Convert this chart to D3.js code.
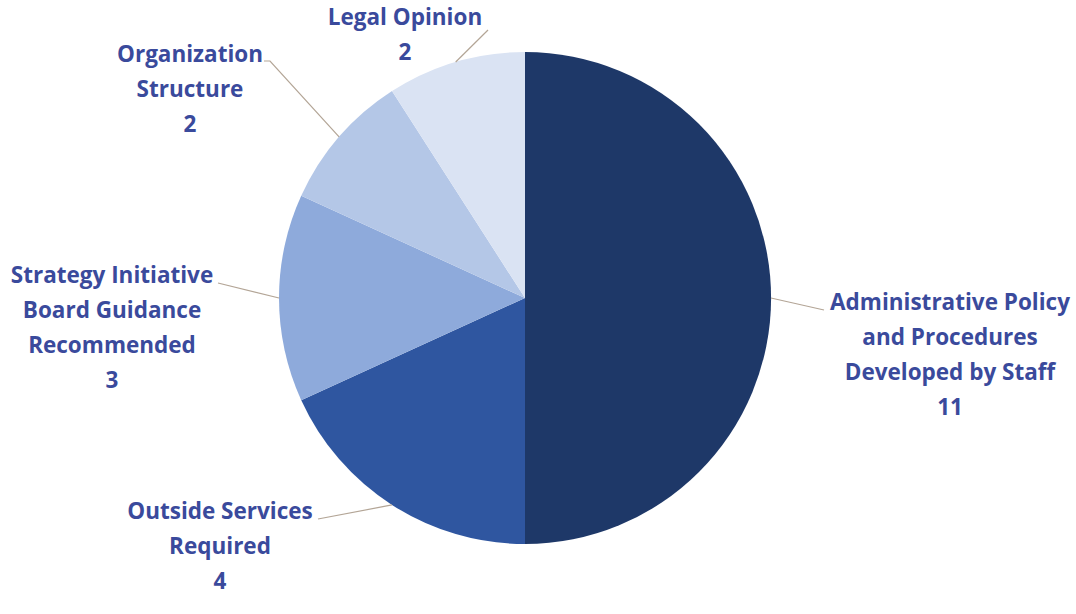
<!DOCTYPE html>
<html><head><meta charset="utf-8">
<script src="https://cdn.jsdelivr.net/npm/d3@7/dist/d3.min.js"></script>
<style>body{margin:0;background:#fff}svg{display:block}</style>
</head><body>
<svg id="c" width="1076" height="614"></svg>
<script>
const categories = ["Administrative Policy and Procedures Developed by Staff","Outside Services Required","Strategy Initiative Board Guidance Recommended","Organization Structure","Legal Opinion"];
const labelLines = [["Administrative Policy","and Procedures","Developed by Staff"],["Outside Services","Required"],["Strategy Initiative","Board Guidance","Recommended"],["Organization","Structure"],["Legal Opinion"]];
const values = [11,4,3,2,2];
const colors = ["#1e3868","#2f56a0","#8eaadb","#b4c7e7","#dae3f3"];

// layout (positions of label blocks: center x, first baseline y, leader elbow)
const layout = [
  {x:950, y:310, lx:824, ly:310},
  {x:220, y:519, lx:318, ly:519},
  {x:112, y:283, lx:218, ly:283},
  {x:190, y:62,  lx:264, ly:61, ex:270},
  {x:405, y:25,  lx:488, ly:30}
];
const lineH = 35;

const svg = d3.select("#c");
const cx = 525, cy = 298, R = 246;
const g = svg.append("g").attr("transform",`translate(${cx},${cy})`);
const pie = d3.pie().sort(null).value(d=>d)(values);
const arc = d3.arc().innerRadius(0).outerRadius(R);
g.selectAll("path").data(pie).join("path").attr("d",arc).attr("fill",(d,i)=>colors[i]);

// leader lines
pie.forEach((d,i)=>{
  const a = (d.startAngle+d.endAngle)/2;
  const px = cx + R*Math.sin(a), py = cy - R*Math.cos(a);
  const L = layout[i];
  const pts = [[L.lx,L.ly]];
  if (L.ex) pts.push([L.ex,L.ly]);
  pts.push([px,py]);
  svg.append("path").attr("d",d3.line()(pts)).attr("fill","none")
     .attr("stroke","#b3a596").attr("stroke-width",1.2);
});

// labels
pie.forEach((d,i)=>{
  const L = layout[i];
  const t = svg.append("text").attr("text-anchor","middle")
    .attr("font-family","'Open Sans', Lato, sans-serif").attr("font-weight","bold")
    .attr("font-size",22.5).attr("fill","#3a4a9c");
  const lines = labelLines[i].concat([String(values[i])]);
  lines.forEach((s,k)=>{
    t.append("tspan").attr("x",L.x).attr("y",L.y + k*lineH).text(s);
  });
});
</script>
</body></html>
